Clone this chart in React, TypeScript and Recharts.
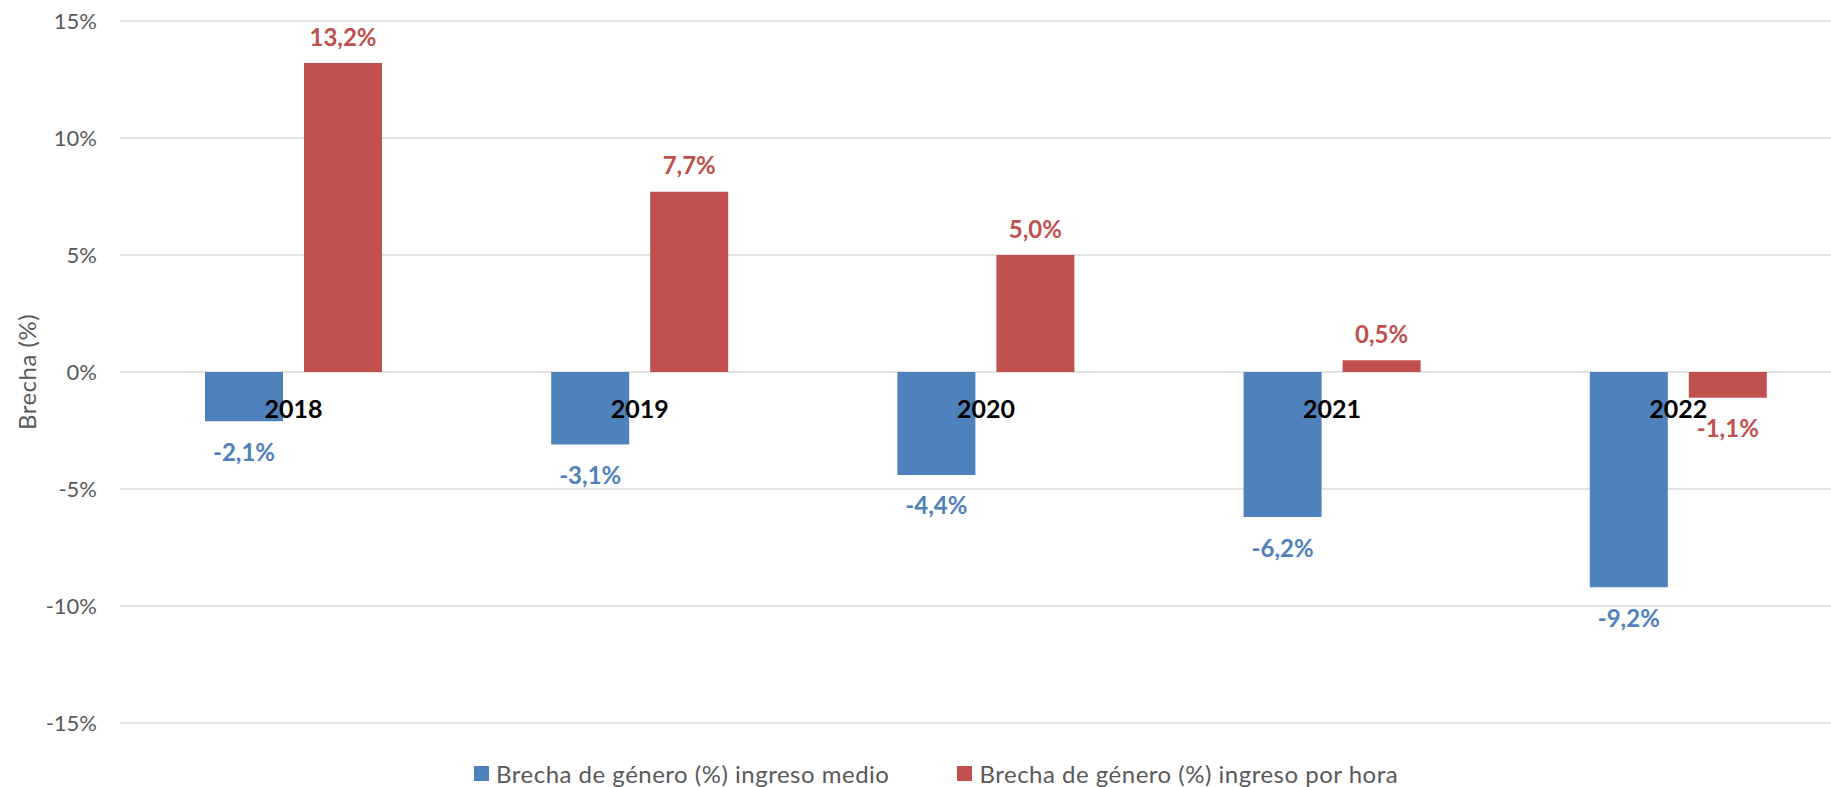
import { BarChart, Bar, XAxis, YAxis, CartesianGrid, Legend, LabelList } from 'recharts'

const years = ['2018', '2019', '2020', '2021', '2022']
const ingresoMedio = [-2.1, -3.1, -4.4, -6.2, -9.2]
const ingresoPorHora = [13.2, 7.7, 5.0, 0.5, -1.1]
const yTicks = [-15, -10, -5, 0, 5, 10, 15]

const seriesNames = {
  medio: 'Brecha de género (%) ingreso medio',
  hora: 'Brecha de género (%) ingreso por hora',
}

const BLUE = '#4F81BD'
const RED = '#C0504D'
const GREY = '#595959'
const FONT = 'Lato, "Open Sans", sans-serif'
const BAR_GAP = 21

// the original plot runs a little past the right edge of the picture
const CHART_W = 1851
const VIEW_W = 1831
const VIEW_H = 787

const data = years.map((year, i) => ({
  year,
  medio: ingresoMedio[i],
  hora: ingresoPorHora[i],
}))

const fmt = (v: number) => `${v.toFixed(1).replace('.', ',')}%`

// bar box from label props, works whether height is signed or not
function barBox(p: any) {
  const vb = p.viewBox ?? p
  const x = Number(vb.x)
  const y = Number(vb.y)
  const w = Number(vb.width)
  const h = Number(vb.height)
  return { x, w, top: Math.min(y, y + h), bottom: Math.max(y, y + h) }
}

function valueLabel(values: number[], color: string) {
  return (props: any) => {
    const v = values[props.index]
    const { x, w, top, bottom } = barBox(props)
    const cy = v >= 0 ? top - 27 : bottom + 30
    return (
      <text
        x={x + w / 2}
        y={cy}
        textAnchor="middle"
        dominantBaseline="central"
        fill={color}
        fontFamily={FONT}
        fontWeight={700}
        fontSize={24}
      >
        {fmt(v)}
      </text>
    )
  }
}

// category names sit just under the zero line, centred on the pair of bars
const yearLabel = (props: any) => {
  const v = ingresoMedio[props.index]
  const { x, w, top, bottom } = barBox(props)
  const zero = v >= 0 ? bottom : top
  return (
    <text
      x={x + w + BAR_GAP / 2}
      y={zero + 36}
      textAnchor="middle"
      dominantBaseline="central"
      fill="#000"
      fontFamily={FONT}
      fontWeight={700}
      fontSize={25}
    >
      {years[props.index]}
    </text>
  )
}

const renderLegend = () => (
  <div
    style={{
      display: 'flex',
      alignItems: 'center',
      height: 28,
      paddingLeft: 474,
      fontFamily: FONT,
      fontSize: 24,
      letterSpacing: 0.5,
      color: GREY,
    }}
  >
    {[
      { name: seriesNames.medio, color: BLUE },
      { name: seriesNames.hora, color: RED },
    ].map((item, i) => (
      <div key={item.name} style={{ display: 'flex', alignItems: 'center', marginLeft: i === 0 ? 0 : 68 }}>
        <span style={{ width: 15, height: 15, background: item.color, marginRight: 7 }} />
        <span>{item.name}</span>
      </div>
    ))}
  </div>
)

export default function App() {
  return (
    <div
      style={{
        position: 'absolute',
        left: 0,
        top: 0,
        width: VIEW_W,
        height: VIEW_H,
        overflow: 'hidden',
        fontFamily: FONT,
      }}
    >
      <BarChart
        width={CHART_W}
        height={VIEW_H}
        data={data}
        margin={{ top: 21, right: 0, left: 0, bottom: 36 }}
        barSize={78}
        barGap={BAR_GAP}
      >
        <CartesianGrid vertical={false} stroke="#D9D9D9" strokeWidth={1.5} />
        <XAxis dataKey="year" hide />
        <YAxis
          width={120}
          domain={[-15, 15]}
          ticks={yTicks}
          interval={0}
          tickFormatter={(v) => `${v}%`}
          axisLine={false}
          tickLine={false}
          tickSize={0}
          tickMargin={23}
          tick={{ fill: GREY, fontSize: 22, fontFamily: FONT }}
          label={{
            content: (p: any) => {
              const vb = p.viewBox
              const cx = vb.x + 26
              const cy = vb.y + vb.height / 2
              return (
                <text
                  x={cx}
                  y={cy}
                  transform={`rotate(-90 ${cx} ${cy})`}
                  textAnchor="middle"
                  dominantBaseline="central"
                  fill={GREY}
                  fontFamily={FONT}
                  fontSize={24}
                  letterSpacing={0.5}
                >
                  Brecha (%)
                </text>
              )
            },
          }}
        />
        <Legend
          verticalAlign="bottom"
          content={renderLegend}
          wrapperStyle={{ left: 0, bottom: 0, width: CHART_W, height: 28 }}
        />
        <Bar dataKey="medio" name={seriesNames.medio} fill={BLUE} isAnimationActive={false}>
          <LabelList dataKey="medio" content={valueLabel(ingresoMedio, BLUE)} />
          <LabelList dataKey="year" content={yearLabel} />
        </Bar>
        <Bar dataKey="hora" name={seriesNames.hora} fill={RED} isAnimationActive={false}>
          <LabelList dataKey="hora" content={valueLabel(ingresoPorHora, RED)} />
        </Bar>
      </BarChart>
    </div>
  )
}
